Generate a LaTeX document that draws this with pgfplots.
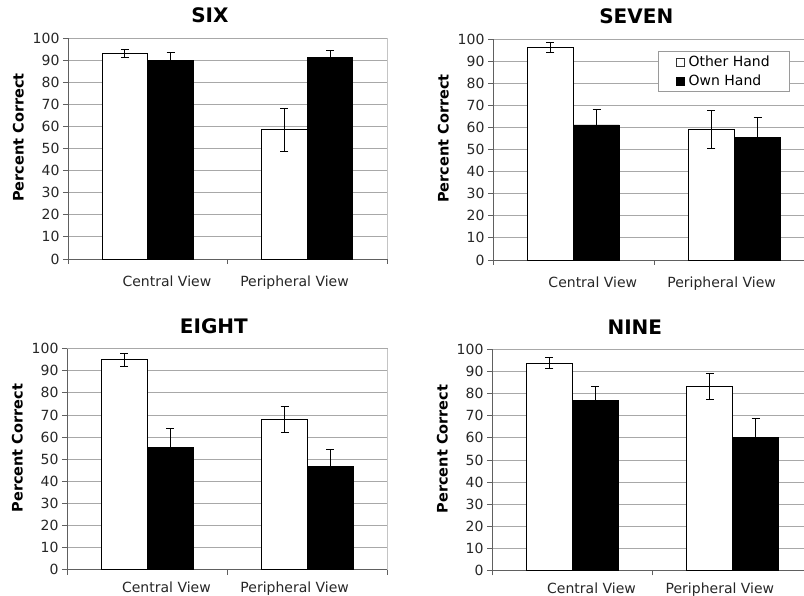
\documentclass[border=0pt]{standalone}
\usepackage{pgfplots}
\pgfplotsset{compat=1.18}
\usepackage{fontspec}
\setmainfont{DejaVu Sans}
\definecolor{gridgray}{HTML}{A8A8A8}
\definecolor{axisgray}{HTML}{606060}
\definecolor{bordergray}{HTML}{C4C4C4}
\definecolor{legendgray}{HTML}{9A9A9A}
\pgfplotsset{
  panel/.style={
    scale only axis, height=221pt,
    xmin=0, xmax=2, ymin=0, ymax=100,
    clip=false,
    axis lines=left, axis line style={-, draw=axisgray, line width=0.9pt},
    tick align=outside, major tick length=5pt,
    tick style={draw=axisgray, line width=0.9pt},
    ytick={0,10,...,100}, ytick pos=left,
    ymajorgrids, grid style={draw=gridgray, line width=0.9pt},
    xtick={0,1,2}, xticklabels={},
    extra x ticks={0.62,1.42},
    extra x tick labels={Central View, Peripheral View},
    extra x tick style={major tick length=0pt, xmajorgrids=false, ymajorgrids=false,
      tick label style={yshift=#1}},
    /pgf/number format/assume math mode=true,
    tick label style={font=\fontsize{14}{16}\selectfont, text=black!85},
    ylabel={Percent Correct},
    ylabel style={font=\bfseries\fontsize{14.5}{16}\selectfont, at={(ticklabel cs:0.55)}},
    ylabel shift=2pt,
    title style={font=\bfseries\fontsize{20}{23}\selectfont, at={(rel axis cs:0.445,1)}, anchor=base, yshift=9pt},
  },
  other/.style={ybar, bar width=0.285, bar shift=0pt, fill=white, draw=black, line width=0.9pt,
    error bars/.cd, y dir=both, y explicit,
    error bar style={line width=0.9pt, black},
    error mark options={rotate=90, mark size=4pt, line width=0.9pt, black}},
  own/.style={ybar, bar width=0.285, bar shift=0pt, fill=black, draw=black, line width=0.9pt,
    error bars/.cd, y dir=plus, y explicit,
    error bar style={line width=0.9pt, black},
    error mark options={rotate=90, mark size=4pt, line width=0.9pt, black}},
}
\begin{document}
\begin{tikzpicture}
\useasboundingbox (0pt,0pt) rectangle (804pt,595pt);
% SIX
\begin{axis}[panel=-13pt, width=319pt, at={(68pt,336pt)}, anchor=south west, title={SIX}]
\addplot[other] coordinates {(0.357,93.0) +- (0,1.7) (1.357,58.4) +- (0,9.8)};
\addplot[own] coordinates {(0.643,89.8) +- (0,3.6) (1.643,91.0) +- (0,3.3)};
\draw[bordergray, line width=0.9pt] (rel axis cs:1,0) -- (rel axis cs:1,1);
\end{axis}
% SEVEN
\begin{axis}[panel=-13.5pt, width=322pt, at={(493pt,335pt)}, anchor=south west, title={SEVEN},
  legend style={at={(rel axis cs:0.512,0.946)}, anchor=north west, draw=legendgray, fill=white,
    line width=0.9pt, font=\fontsize{14}{16}\selectfont, inner xsep=18pt, inner ysep=2.5pt, row sep=3pt,
    nodes={inner sep=2pt}},
  legend cell align=left,
  legend image code/.code={\draw[#1] (0pt,-4pt) rectangle (8pt,4pt); \path[draw=none, fill=none] (0pt,0pt) -- (10pt,0pt);}]
\addplot[forget plot, other] coordinates {(0.357,96.3) +- (0,2.2) (1.357,59.1) +- (0,8.5)};
\addplot[forget plot, own] coordinates {(0.643,61.1) +- (0,7.0) (1.643,55.5) +- (0,8.9)};
\addlegendimage{fill=white, draw=black!80, line width=0.6pt}
\addlegendentry{Other Hand}
\addlegendimage{fill=black, draw=black, line width=0.6pt}
\addlegendentry{Own Hand}
\end{axis}
% EIGHT
\begin{axis}[panel=-9pt, width=320.7pt, at={(67pt,25.3pt)}, anchor=south west, title={EIGHT},
  title style={at={(rel axis cs:0.458,1)}}]
\addplot[other] coordinates {(0.357,95.0) +- (0,2.9) (1.357,68.0) +- (0,5.8)};
\addplot[own] coordinates {(0.643,55.4) +- (0,8.4) (1.643,46.5) +- (0,8.0)};
\draw[bordergray, line width=0.9pt] (rel axis cs:1,0) -- (rel axis cs:1,1);
\end{axis}
% NINE
\begin{axis}[panel=-8.5pt, width=321pt, at={(492pt,24.5pt)}, anchor=south west, title={NINE}]
\addplot[other] coordinates {(0.357,93.9) +- (0,2.5) (1.357,83.4) +- (0,5.8)};
\addplot[own] coordinates {(0.643,76.9) +- (0,6.5) (1.643,60.3) +- (0,8.3)};
\end{axis}
\end{tikzpicture}
\end{document}
